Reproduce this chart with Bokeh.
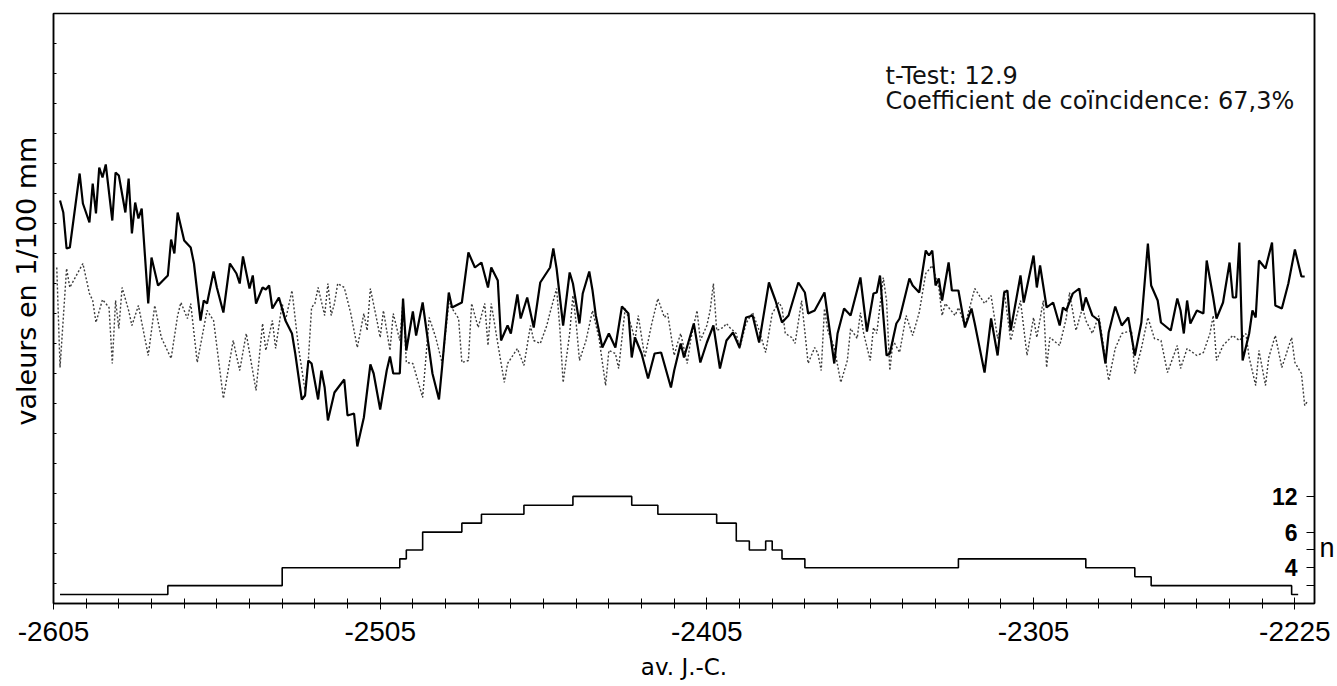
from bokeh.plotting import figure
from bokeh.models import Range1d, LinearAxis, FixedTicker, Title
from bokeh.embed import file_html
from bokeh.resources import INLINE
from bokeh.core.properties import value

# ---------------- data ----------------
SOLID_YEARS = [
    -2603, -2602, -2601, -2600, -2597, -2596, -2594, -2593, -2592, -2591,
    -2590, -2589, -2587, -2586, -2585, -2583, -2582, -2581, -2580, -2579,
    -2578, -2576, -2575, -2573, -2570, -2569, -2568, -2567, -2565, -2563,
    -2562, -2560, -2559, -2558, -2556, -2555, -2553, -2551, -2549, -2548,
    -2547, -2545, -2544, -2543, -2541, -2540, -2539, -2538, -2536, -2534,
    -2532, -2531, -2529, -2528, -2527, -2526, -2524, -2523, -2522, -2521,
    -2519, -2516, -2515, -2513, -2512, -2510, -2508, -2507, -2505, -2503,
    -2502, -2501, -2499, -2498, -2497, -2495, -2494, -2492, -2489, -2487,
    -2486, -2484, -2483, -2480, -2478, -2476, -2474, -2472, -2471, -2469,
    -2468, -2466, -2465, -2463, -2462, -2460, -2458, -2456, -2453, -2452,
    -2451, -2449, -2447, -2446, -2444, -2443, -2441, -2440, -2439, -2437,
    -2435, -2433, -2431, -2429, -2428, -2427, -2425, -2423, -2421, -2419,
    -2416, -2415, -2413, -2412, -2409, -2407, -2405, -2403, -2401, -2399,
    -2397, -2395, -2393, -2391, -2389, -2386, -2384, -2382, -2380, -2377,
    -2375, -2374, -2372, -2369, -2366, -2365, -2363, -2361, -2358, -2356,
    -2354, -2353, -2352, -2350, -2349, -2347, -2346, -2343, -2342, -2340,
    -2338, -2337, -2336, -2335, -2334, -2333, -2331, -2330, -2328, -2326,
    -2324, -2323, -2320, -2318, -2316, -2314, -2313, -2312, -2309, -2308,
    -2305, -2304, -2303, -2301, -2299, -2297, -2296, -2295, -2293, -2291,
    -2290, -2289, -2287, -2285, -2283, -2282, -2280, -2278, -2276, -2274,
    -2272, -2270, -2269, -2267, -2266, -2263, -2261, -2260, -2259, -2258,
    -2257, -2255, -2253, -2252, -2250, -2249, -2247, -2245, -2244, -2243,
    -2242, -2241, -2239, -2238, -2237, -2236, -2234, -2232, -2231, -2229,
    -2227, -2225, -2223, -2222,
]
SOLID_VALUES = [
    403, 391, 355, 356, 430, 400, 381, 420, 390, 436,
    426, 439, 383, 431, 428, 391, 425, 370, 401, 385,
    395, 300, 346, 318, 328, 364, 350, 391, 363, 356,
    340, 283, 303, 300, 332, 316, 291, 340, 330, 320,
    347, 315, 328, 300, 316, 314, 318, 295, 306, 283,
    270, 250, 204, 208, 243, 240, 204, 233, 216, 183,
    211, 224, 188, 190, 157, 186, 239, 230, 194, 233,
    247, 230, 230, 305, 253, 292, 268, 301, 230, 204,
    238, 311, 296, 301, 351, 336, 341, 316, 336, 323,
    263, 278, 270, 309, 285, 306, 276, 321, 336, 355,
    335, 278, 331, 320, 280, 310, 332, 313, 288, 256,
    270, 256, 297, 290, 246, 266, 250, 225, 250, 251,
    216, 233, 260, 246, 280, 241, 261, 278, 235, 263,
    271, 256, 286, 288, 261, 321, 303, 281, 288, 321,
    311, 290, 293, 311, 240, 270, 295, 288, 326, 272,
    310, 311, 328, 248, 250, 280, 285, 325, 318, 311,
    353, 348, 353, 318, 325, 303, 341, 313, 313, 276,
    295, 280, 231, 285, 248, 311, 313, 273, 328, 301,
    348, 316, 338, 296, 301, 278, 296, 293, 310, 315,
    293, 306, 288, 283, 240, 271, 297, 278, 286, 248,
    281, 360, 318, 303, 281, 273, 305, 293, 270, 303,
    280, 293, 290, 343, 306, 285, 301, 341, 306, 306,
    361, 243, 270, 293, 286, 343, 335, 361, 298, 295,
    320, 354, 327, 327,
]

DOTTED_YEARS = [
    -2604, -2603, -2601, -2600, -2596, -2594, -2593, -2592, -2590, -2588,
    -2587, -2586, -2585, -2584, -2582, -2581, -2579, -2576, -2574, -2572,
    -2569, -2567, -2566, -2564, -2563, -2561, -2558, -2556, -2553, -2550,
    -2548, -2546, -2543, -2541, -2540, -2538, -2537, -2535, -2534, -2532,
    -2530, -2528, -2527, -2526, -2525, -2524, -2522, -2521, -2520, -2519,
    -2518, -2516, -2514, -2512, -2510, -2509, -2508, -2506, -2505, -2504,
    -2502, -2501, -2499, -2498, -2497, -2495, -2492, -2490, -2488, -2486,
    -2484, -2481, -2480, -2478, -2477, -2475, -2473, -2472, -2471, -2469,
    -2467, -2466, -2463, -2461, -2459, -2458, -2456, -2454, -2453, -2451,
    -2450, -2449, -2447, -2446, -2445, -2444, -2442, -2440, -2438, -2436,
    -2435, -2433, -2432, -2430, -2428, -2427, -2426, -2424, -2422, -2420,
    -2418, -2417, -2415, -2414, -2413, -2411, -2410, -2408, -2407, -2405,
    -2404, -2403, -2402, -2400, -2399, -2398, -2396, -2395, -2393, -2391,
    -2389, -2387, -2385, -2383, -2382, -2381, -2379, -2378, -2376, -2374,
    -2372, -2371, -2370, -2369, -2368, -2366, -2364, -2362, -2361, -2359,
    -2358, -2357, -2355, -2354, -2353, -2351, -2350, -2349, -2348, -2346,
    -2344, -2342, -2340, -2338, -2336, -2334, -2333, -2332, -2329, -2328,
    -2326, -2323, -2320, -2318, -2316, -2315, -2314, -2312, -2309, -2307,
    -2305, -2304, -2302, -2301, -2300, -2297, -2295, -2294, -2292, -2290,
    -2289, -2287, -2285, -2282, -2280, -2278, -2275, -2274, -2272, -2270,
    -2268, -2266, -2264, -2261, -2260, -2258, -2255, -2253, -2251, -2250,
    -2249, -2247, -2244, -2242, -2240, -2239, -2237, -2236, -2234, -2233,
    -2231, -2229, -2226, -2225, -2223, -2222, -2221,
]
DOTTED_VALUES = [
    336, 236, 335, 316, 340, 310, 303, 281, 304, 296,
    240, 303, 275, 316, 293, 278, 298, 248, 298, 266,
    245, 288, 301, 285, 300, 241, 293, 283, 205, 263,
    233, 270, 213, 280, 253, 283, 255, 300, 283, 313,
    256, 213, 243, 296, 300, 316, 288, 320, 288, 300,
    320, 316, 290, 256, 290, 273, 315, 283, 266, 293,
    253, 290, 263, 303, 241, 240, 206, 286, 266, 240,
    300, 285, 241, 243, 300, 276, 300, 258, 300, 260,
    221, 240, 255, 238, 278, 263, 260, 278, 291, 315,
    275, 221, 270, 308, 280, 243, 263, 293, 265, 218,
    253, 250, 235, 295, 276, 263, 288, 246, 278, 305,
    286, 290, 248, 260, 270, 240, 263, 293, 263, 278,
    293, 320, 273, 276, 280, 276, 270, 255, 280, 291,
    273, 251, 290, 301, 296, 270, 266, 260, 303, 240,
    256, 250, 233, 295, 273, 256, 221, 243, 275, 265,
    291, 270, 243, 276, 270, 326, 303, 233, 263, 251,
    288, 268, 291, 330, 338, 316, 288, 300, 288, 296,
    278, 315, 300, 308, 265, 276, 313, 263, 303, 248,
    286, 266, 303, 236, 266, 258, 285, 311, 273, 296,
    283, 270, 288, 223, 255, 270, 273, 230, 255, 286,
    265, 263, 231, 258, 235, 255, 248, 251, 270, 288,
    243, 258, 268, 263, 270, 246, 218, 253, 218, 246,
    268, 236, 266, 241, 230, 198, 203,
]

# number of series (n) per year, step curve
N_YEARS = [-2603, -2570, -2535, -2499, -2497, -2492, -2480, -2474, -2461, -2446,
           -2428, -2420, -2402, -2396, -2392, -2387, -2385, -2382, -2375, -2328,
           -2289, -2274, -2269, -2226, -2224]
N_VALUES = [1, 2, 4, 5, 6, 8, 9, 10, 11, 12,
            11, 10, 9, 7, 6, 7, 6, 5, 4, 5,
            4, 3, 2, 1, 1]

X_TICKS = [-2605, -2505, -2405, -2305, -2225]
X_TICK_LABELS = ["-2605", "-2505", "-2405", "-2305", "-2225"]
X_MINOR = list(range(-2605, -2224, 10))
N_TICKS = [2, 4, 6, 8, 12]
N_TICK_POS = [12, 8, 4]
N_TICK_TEXT = ["12", "6", "4"]
Y_TICKS = list(range(20, 590, 30))

X_TITLE = "av. J.-C."
Y_TITLE = "valeurs en 1/100 mm"
N_TITLE = "n"
N_TITLE_POS = 6.2
ANNOT_LINES = ["t-Test: 12.9", "Coefficient de coïncidence: 67,3%"]

X_START, X_END = -2605, -2219
Y_START, Y_END = 0, 590
N_START, N_END = 0, 66.1

# ---------------- figure ----------------
p = figure(width=1337, height=686, output_backend="svg", toolbar_location=None,
           x_range=Range1d(X_START, X_END), y_range=Range1d(Y_START, Y_END),
           min_border_left=52, min_border_right=21, min_border_top=13,
           min_border_bottom=83)
p.extra_y_ranges = {"n": Range1d(N_START, N_END)}
p.background_fill_color = "white"
p.border_fill_color = "white"
p.outline_line_color = "black"
p.outline_line_width = 1.5
p.xgrid.visible = False
p.ygrid.visible = False

# x axis
xa = p.xaxis[0]
xa.ticker = FixedTicker(ticks=X_TICKS, minor_ticks=X_MINOR)
xa.major_label_overrides = dict(zip(X_TICKS, X_TICK_LABELS))
xa.axis_line_color = "black"
xa.axis_line_width = 1.5
xa.major_tick_in = 6
xa.major_tick_out = 6
xa.minor_tick_in = 5
xa.minor_tick_out = 5
xa.major_tick_line_color = "black"
xa.minor_tick_line_color = "black"
xa.major_label_standoff = 12
xa.major_label_text_font = "Liberation Sans"
xa.major_label_text_font_size = "28px"
xa.major_label_text_color = "black"
xa.axis_label = X_TITLE
xa.axis_label_text_font = "DejaVu Sans"
xa.axis_label_text_font_size = "23px"
xa.axis_label_text_font_style = "normal"
xa.axis_label_text_color = "black"
xa.axis_label_standoff = 10

# left axis: small ticks only
ya = p.yaxis[0]
ya.ticker = FixedTicker(ticks=Y_TICKS)
ya.axis_line_color = "black"
ya.axis_line_width = 1.5
ya.major_tick_in = 3
ya.major_tick_out = 0
ya.minor_tick_line_color = None
ya.major_label_overrides = {t: "" for t in Y_TICKS}
ya.major_label_text_color = None
ya.major_label_standoff = 0

# y title, placed along the left side like the reference
p.add_layout(Title(text=Y_TITLE, align="left", offset=178, standoff=20,
                   vertical_align="top",
                   text_font="DejaVu Sans", text_font_size="27px",
                   text_font_style="normal", text_color="black"), "left")

# right axis (n): ticks as minor ticks, the "n" title as its one label
ra = LinearAxis(y_range_name="n",
                ticker=FixedTicker(ticks=[N_TITLE_POS], minor_ticks=N_TICKS))
ra.axis_line_color = "black"
ra.axis_line_width = 1.5
ra.major_tick_line_color = None
ra.major_tick_in = 0
ra.major_tick_out = 0
ra.minor_tick_line_color = "black"
ra.minor_tick_in = 8
ra.minor_tick_out = 0
ra.major_label_overrides = {N_TITLE_POS: N_TITLE}
ra.major_label_standoff = 5
ra.major_label_text_font = "Liberation Sans"
ra.major_label_text_font_size = "27px"
ra.major_label_text_color = "black"
p.add_layout(ra, "right")

# series
p.line(DOTTED_YEARS, DOTTED_VALUES, line_color="#3c3c3c", line_width=1.4,
       line_dash="2 2")
p.line(SOLID_YEARS, SOLID_VALUES, line_color="black", line_width=2.2)
p.step(N_YEARS, N_VALUES, mode="after", y_range_name="n",
       line_color="black", line_width=1.6)

# n tick labels (inside the frame, like the reference)
p.text(x=[X_END] * len(N_TICK_POS), y=N_TICK_POS, text=N_TICK_TEXT,
       y_range_name="n", x_offset=-17, text_align="right",
       text_baseline="middle", text_font=value("Liberation Sans"),
       text_font_size="23px", text_font_style="bold", text_color="black")

# statistics annotation
ANNOT_X = -2350.3
ANNOT_Y = [528, 503]
p.text(x=[ANNOT_X] * 2, y=ANNOT_Y, text=ANNOT_LINES,
       text_align="left", text_baseline="alphabetic",
       text_font=value("DejaVu Sans"), text_font_size="24px",
       text_color="#111111")

open("out.html", "w").write(file_html(p, INLINE))
